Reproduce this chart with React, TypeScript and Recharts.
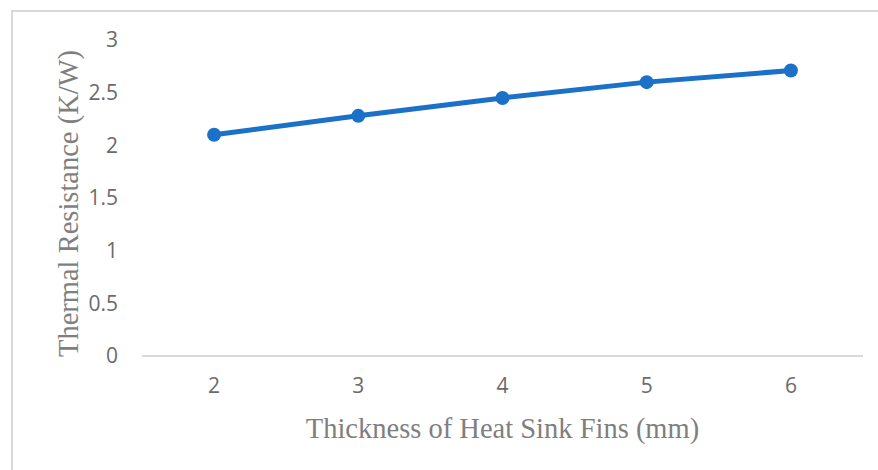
import { LineChart, Line, XAxis, YAxis } from "recharts";

// Fin thickness (mm) against thermal resistance (K/W)
const thickness = ["2", "3", "4", "5", "6"];
const resistance = [2.1, 2.28, 2.45, 2.6, 2.71];
const yTicks = [0, 0.5, 1, 1.5, 2, 2.5, 3];

const data = thickness.map((t, i) => ({ thickness: t, resistance: resistance[i] }));

const LINE_COLOR = "#1a71c7";
const AXIS_COLOR = "#d9d9d9";
const TICK_STYLE = { fill: "#6b6b6b", fontSize: 21, fontFamily: "'Open Sans', sans-serif" };
const TITLE_FONT = "'Liberation Serif', serif";

function XTitle() {
  return (
    <text
      x={502.5}
      y={438}
      textAnchor="middle"
      fill="#7f7f7f"
      fontSize={28.5}
      fontFamily={TITLE_FONT}
    >
      Thickness of Heat Sink Fins (mm)
    </text>
  );
}

function YTitle() {
  return (
    <text
      x={78}
      y={203.5}
      transform="rotate(-90, 78, 203.5)"
      textAnchor="middle"
      fill="#7f7f7f"
      fontSize={28.5}
      fontFamily={TITLE_FONT}
    >
      Thermal Resistance (K/W)
    </text>
  );
}

export default function App() {
  return (
    <div
      style={{
        position: "relative",
        width: 878,
        height: 470,
        overflow: "hidden",
        background: "#fff",
      }}
    >
      <style>{`body{margin:0}`}</style>
      {/* chart frame, runs off the right and bottom edges */}
      <div
        style={{
          position: "absolute",
          left: 11,
          top: 10,
          width: 900,
          height: 500,
          border: `2px solid ${AXIS_COLOR}`,
          boxSizing: "border-box",
        }}
      />
      <LineChart
        width={878}
        height={470}
        data={data}
        margin={{ top: 40, right: 15, bottom: 0, left: 0 }}
        style={{ position: "absolute", left: 0, top: 0 }}
      >
        <XAxis
          dataKey="thickness"
          scale="band"
          height={114}
          axisLine={{ stroke: AXIS_COLOR, strokeWidth: 2 }}
          tickLine={false}
          tickSize={0}
          tickMargin={22}
          tick={TICK_STYLE}
          label={<XTitle />}
        />
        <YAxis
          width={142}
          domain={[0, 3]}
          ticks={yTicks}
          axisLine={false}
          tickLine={false}
          tickSize={0}
          tickMargin={24}
          tick={TICK_STYLE}
          label={<YTitle />}
        />
        <Line
          type="linear"
          dataKey="resistance"
          stroke={LINE_COLOR}
          strokeWidth={5}
          dot={{ r: 7, fill: LINE_COLOR, stroke: "none" }}
          activeDot={false}
          isAnimationActive={false}
        />
      </LineChart>
    </div>
  );
}
